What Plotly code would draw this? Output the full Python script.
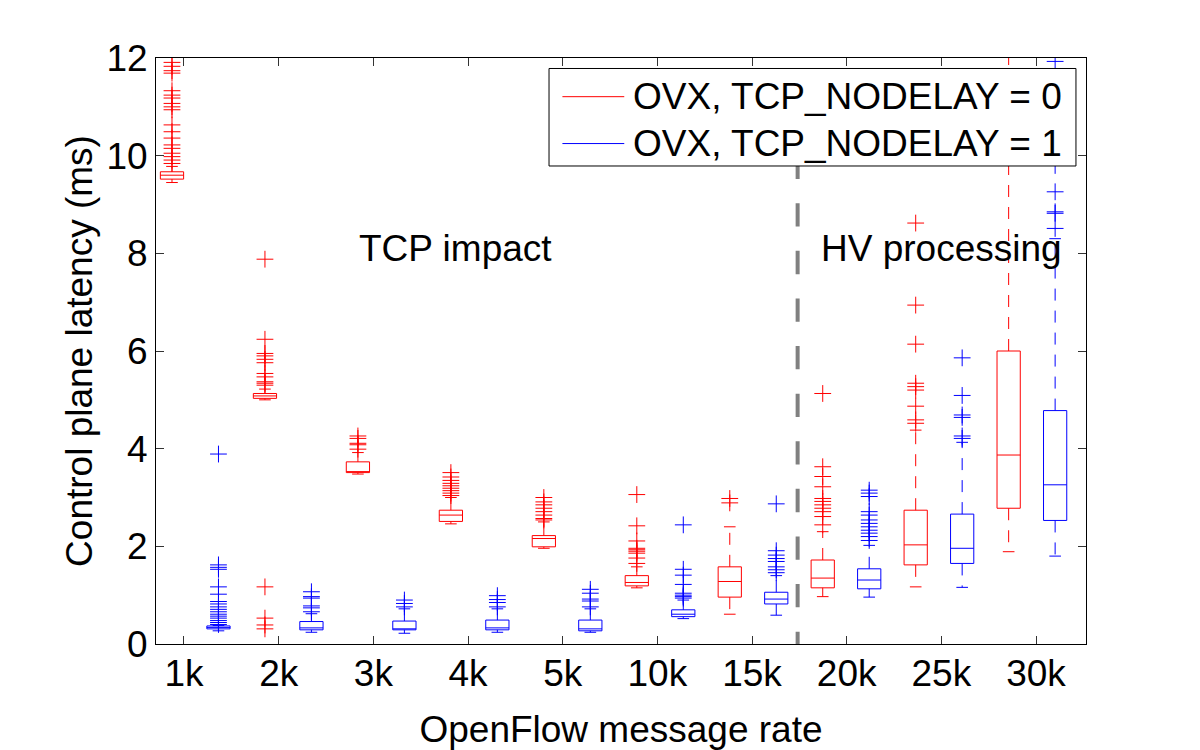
import plotly.graph_objects as go

# ---------------- data ----------------
categories = ["1k", "2k", "3k", "4k", "5k", "10k", "15k", "20k", "25k", "30k"]

# OVX, TCP_NODELAY = 0 (red)
red_lw  = [9.45, 5.00, 3.48, 2.46, 1.96, 1.15, 0.61, 0.97, 1.17, 1.89]
red_q1  = [9.52, 5.03, 3.51, 2.51, 1.99, 1.19, 0.96, 1.15, 1.62, 2.78]
red_med = [9.60, 5.08, 3.53, 2.64, 2.16, 1.26, 1.28, 1.35, 2.03, 3.87]
red_q3  = [9.67, 5.13, 3.73, 2.74, 2.22, 1.40, 1.58, 1.72, 2.74, 6.00]
red_uw  = [9.78, 5.22, 3.92, 3.00, 2.50, 1.58, 2.40, 2.30, 4.38, 12.60]
red_out = [
    [9.84, 9.91, 9.98, 10.05, 10.15, 10.22, 10.36, 10.49, 10.63, 10.94, 11.00,
     11.07, 11.18, 11.24, 11.33, 11.69, 11.74, 11.83, 11.91],
    [0.31, 0.39, 0.53, 1.17, 5.30, 5.34, 5.37, 5.47, 5.54, 5.76, 5.83, 5.90,
     5.95, 6.24, 7.88],
    [3.99, 4.08, 4.11, 4.21, 4.26],
    [3.04, 3.09, 3.14, 3.19, 3.24, 3.29, 3.35, 3.42, 3.51],
    [2.54, 2.57, 2.64, 2.71, 2.78, 2.85, 2.91, 3.00],
    [1.65, 1.76, 1.86, 1.90, 1.93, 1.96, 2.11, 2.42, 3.06],
    [2.89, 2.98],
    [2.44, 2.61, 2.71, 2.78, 2.85, 2.92, 2.98, 3.22, 3.43, 3.63, 5.13],
    [4.52, 4.59, 4.87, 5.20, 5.27, 5.34, 6.14, 6.94, 8.62],
    [],
]

# OVX, TCP_NODELAY = 1 (blue)
blue_lw  = [0.27, 0.24, 0.22, 0.24, 0.24, 0.52, 0.59, 0.96, 1.16, 1.80]
blue_q1  = [0.31, 0.29, 0.29, 0.29, 0.27, 0.56, 0.82, 1.13, 1.65, 2.53]
blue_med = [0.34, 0.33, 0.31, 0.33, 0.31, 0.61, 0.92, 1.31, 1.96, 3.26]
blue_q3  = [0.37, 0.46, 0.47, 0.49, 0.49, 0.70, 1.06, 1.54, 2.66, 4.78]
blue_uw  = [0.38, 0.62, 0.72, 0.72, 0.72, 0.90, 1.40, 2.02, 4.13, 8.30]
blue_out = [
    [0.40, 0.44, 0.48, 0.53, 0.57, 0.61, 0.66, 0.71, 0.76, 0.82, 0.87, 1.02,
     1.17, 1.53, 1.57, 1.62, 3.89],
    [0.66, 0.74, 0.78, 0.94, 0.97, 1.07],
    [0.76, 0.83, 0.90],
    [0.76, 0.85, 0.91, 0.99],
    [0.76, 0.88, 0.92, 1.04, 1.12],
    [0.94, 0.97, 1.00, 1.04, 1.22, 1.41, 1.53, 2.44],
    [1.46, 1.52, 1.58, 1.69, 1.75, 1.82, 1.91, 2.87],
    [2.12, 2.20, 2.27, 2.33, 2.40, 2.47, 2.54, 2.64, 2.71, 3.02, 3.09, 3.15],
    [4.21, 4.26, 4.64, 4.69, 5.09, 5.86],
    [8.51, 8.82, 8.85, 9.26, 9.80, 11.93],
]

series_names = ["OVX, TCP_NODELAY = 0", "OVX, TCP_NODELAY = 1"]
series_colors = ["#ff0000", "#0000ff"]

divider_pos = 14.46     # boundary between regimes (box-position units)
divider_top = 10.0
annot_texts = ["TCP impact", "HV processing"]
annot_x = [4.98, 14.93]
annot_y = [8.1, 8.1]

# ---------------- layout helpers ----------------
FONT = "Liberation Sans, Arial, Helvetica, sans-serif"
FS = 37
BOX_W = 0.5
CAP_W = 0.25

n = len(categories)
red_pos = [2 * i + 1 for i in range(n)]
blue_pos = [2 * i + 2 for i in range(n)]
tick_pos = [1.258 + 2.0368 * i for i in range(n)]

fig = go.Figure()


def add_series(pos, lw, q1, med, q3, uw, outs, color):
    fig.add_trace(go.Box(
        x=pos, q1=q1, median=med, q3=q3, lowerfence=q1, upperfence=q3,
        width=BOX_W, whiskerwidth=0, boxpoints=False,
        line=dict(color=color, width=1), fillcolor="rgba(0,0,0,0)",
        showlegend=False, hoverinfo="skip"))
    wx, wy, cx, cy = [], [], [], []
    for p, a, b, c, d in zip(pos, lw, q1, q3, uw):
        wx += [p, p, None, p, p, None]
        wy += [c, d, None, b, a, None]
        cx += [p - CAP_W / 2, p + CAP_W / 2, None, p - CAP_W / 2, p + CAP_W / 2, None]
        cy += [d, d, None, a, a, None]
    fig.add_trace(go.Scatter(x=wx, y=wy, mode="lines",
                             line=dict(color=color, width=1, dash="12px,10px"),
                             showlegend=False, hoverinfo="skip"))
    fig.add_trace(go.Scatter(x=cx, y=cy, mode="lines",
                             line=dict(color=color, width=1),
                             showlegend=False, hoverinfo="skip"))
    ox, oy = [], []
    for p, vals in zip(pos, outs):
        ox += [p] * len(vals)
        oy += vals
    fig.add_trace(go.Scatter(x=ox, y=oy, mode="markers",
                             marker=dict(symbol="cross-thin", size=12, color=color,
                                         line=dict(color=color, width=1)),
                             showlegend=False, hoverinfo="skip"))


add_series(red_pos, red_lw, red_q1, red_med, red_q3, red_uw, red_out, series_colors[0])
add_series(blue_pos, blue_lw, blue_q1, blue_med, blue_q3, blue_uw, blue_out, series_colors[1])

# divider
fig.add_trace(go.Scatter(x=[divider_pos, divider_pos], y=[divider_top, 0], mode="lines",
                         line=dict(color="#808080", width=4, dash="23.3px,24.3px"),
                         showlegend=False, hoverinfo="skip"))

for t, x, y in zip(annot_texts, annot_x, annot_y):
    fig.add_annotation(x=x, y=y, xref="x", yref="y", text=t, showarrow=False,
                       xanchor="left", yanchor="middle",
                       font=dict(family=FONT, size=FS, color="black"))

# manual legend (MATLAB style)
L_X0, L_X1, L_Y0, L_Y1 = 0.4226, 0.9892, 0.8157, 0.9821
fig.add_shape(type="rect", xref="paper", yref="paper", x0=L_X0, x1=L_X1, y0=L_Y0, y1=L_Y1,
              line=dict(color="black", width=1), fillcolor="white", layer="above")
leg_rows = [0.9340, 0.8540]
for name, col, yy in zip(series_names, series_colors, leg_rows):
    fig.add_shape(type="line", xref="paper", yref="paper", x0=0.4370, x1=0.5035,
                  y0=yy, y1=yy, line=dict(color=col, width=1), layer="above")
    fig.add_annotation(x=0.5108, y=yy, xref="paper", yref="paper", text=name,
                       showarrow=False, xanchor="left", yanchor="middle",
                       font=dict(family=FONT, size=FS, color="black"))

axis_common = dict(showline=True, linecolor="black", linewidth=1, mirror="ticks",
                   ticks="inside", ticklen=8, tickwidth=1, tickcolor="#333333",
                   showgrid=False, zeroline=False,
                   tickfont=dict(family=FONT, size=FS, color="black"))

fig.update_layout(
    width=1200, height=750,
    margin=dict(l=156, r=114, t=58, b=106, autoexpand=False),
    paper_bgcolor="white", plot_bgcolor="white",
    showlegend=False,
    xaxis=dict(range=[0.656, 20.664], tickvals=tick_pos, ticktext=categories,
               title=dict(text="OpenFlow message rate", standoff=22,
                          font=dict(family=FONT, size=FS, color="black")),
               ticklabelstandoff=-3, **axis_common),
    yaxis=dict(range=[0, 12], tickvals=[0, 2, 4, 6, 8, 10, 12],
               title=dict(text="Control plane latency (ms)", standoff=2,
                          font=dict(family=FONT, size=FS, color="black")),
               ticklabelstandoff=0, **axis_common),
)

fig.write_html("out.html")
